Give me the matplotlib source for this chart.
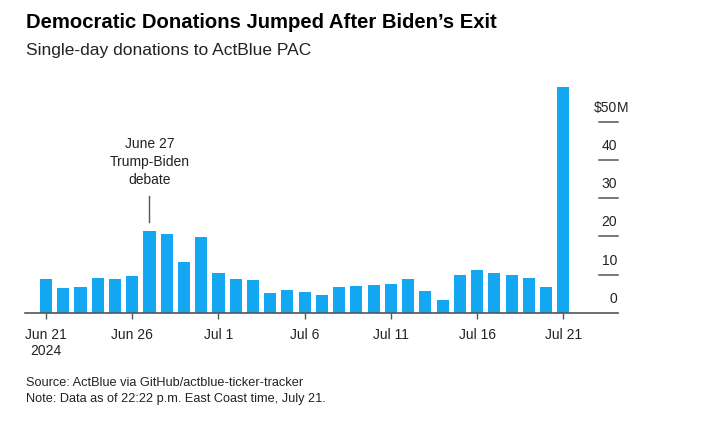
import matplotlib
matplotlib.use("Agg")
import matplotlib.pyplot as plt
import numpy as np

plt.rcParams['font.family'] = ['Liberation Sans', 'DejaVu Sans']

dates = ["Jun 21", "Jun 22", "Jun 23", "Jun 24", "Jun 25", "Jun 26", "Jun 27", "Jun 28",
         "Jun 29", "Jun 30", "Jul 1", "Jul 2", "Jul 3", "Jul 4", "Jul 5", "Jul 6", "Jul 7",
         "Jul 8", "Jul 9", "Jul 10", "Jul 11", "Jul 12", "Jul 13", "Jul 14", "Jul 15",
         "Jul 16", "Jul 17", "Jul 18", "Jul 19", "Jul 20", "Jul 21"]
donations = [8.9, 6.4, 6.7, 9.1, 8.9, 9.6, 21.3, 20.6, 13.4, 19.8, 10.5, 8.8, 8.6, 5.2, 6.1,
             5.6, 4.8, 6.7, 7.0, 7.2, 7.7, 8.9, 5.7, 3.3, 9.9, 11.3, 10.4, 9.8, 9.2, 6.9, 59.0]
tick_labels = ["Jun 21\n2024", "Jun 26", "Jul 1", "Jul 6", "Jul 11", "Jul 16", "Jul 21"]
y_ticks = [0, 10, 20, 30, 40, 50]

W, H = 704, 430
fig = plt.figure(figsize=(W / 100, H / 100), dpi=100)
fig.patch.set_facecolor('white')

def fx(px):
    return px / W

def fy(py):
    return 1 - py / H

ax_l, ax_r, ax_t, ax_b = 25, 618, 83.2, 313
ax = fig.add_axes([fx(ax_l), fy(ax_b), fx(ax_r - ax_l), (ax_b - ax_t) / H])

x = np.arange(len(dates))
ax.bar(x, donations, width=0.7, color='#14A8F2', zorder=2)

ax.set_xlim(-1.22, 33.17)
ax.set_ylim(0, 60)

tick_pos = [dates.index(lbl.split("\n")[0]) for lbl in tick_labels]
ax.set_xticks(tick_pos)
ax.set_xticklabels(tick_labels, fontsize=10, color='#222222', linespacing=1.15)
ax.tick_params(axis='x', direction='out', length=4, width=1, color='#555555', pad=7)
ax.set_yticks([])

for s in ['top', 'right', 'left']:
    ax.spines[s].set_visible(False)
ax.spines['bottom'].set_color('#555555')
ax.spines['bottom'].set_linewidth(1.2)
ax.spines['bottom'].set_zorder(3)

# right-side value ticks
ytr = ax.get_yaxis_transform()
seg_start = (599 - ax_l) / (ax_r - ax_l)
for v in y_ticks[1:]:
    ax.plot([seg_start, 1.0], [v, v], transform=ytr, color='#555555', lw=1.1,
            clip_on=False, zorder=3)
label_x = (617 - ax_l) / (ax_r - ax_l)
for v in y_ticks:
    lbl = f"${v}" if v == y_ticks[-1] else f"{v}"
    ax.annotate(lbl, xy=(label_x, v), xycoords=ytr, xytext=(0, 5),
                textcoords='offset points', ha='right', va='bottom',
                fontsize=10, color='#222222', annotation_clip=False)
ax.annotate("M", xy=(label_x, y_ticks[-1]), xycoords=ytr, xytext=(0, 5),
            textcoords='offset points', ha='left', va='bottom',
            fontsize=10, color='#222222', annotation_clip=False)

# annotation for debate
deb = dates.index("Jun 27")
ax.plot([deb, deb], [donations[deb] + 2.4, 30.5], color='#555555', lw=1, zorder=3)
ax.text(deb, 33.0, "June 27\nTrump-Biden\ndebate", ha='center',
        va='bottom', fontsize=10, color='#222222', linespacing=1.35)

fig.text(fx(26), fy(28), "Democratic Donations Jumped After Biden\u2019s Exit",
         fontsize=14.6, fontweight='bold', color='#000000', ha='left', va='baseline')
fig.text(fx(26), fy(55), "Single-day donations to ActBlue PAC",
         fontsize=12.5, color='#222222', ha='left', va='baseline')
fig.text(fx(26), fy(386), "Source: ActBlue via GitHub/actblue-ticker-tracker",
         fontsize=9.2, color='#222222', ha='left', va='baseline')
fig.text(fx(26), fy(402), "Note: Data as of 22:22 p.m. East Coast time, July 21.",
         fontsize=9.2, color='#222222', ha='left', va='baseline')

fig.savefig("out.png", dpi=100, facecolor='white')
